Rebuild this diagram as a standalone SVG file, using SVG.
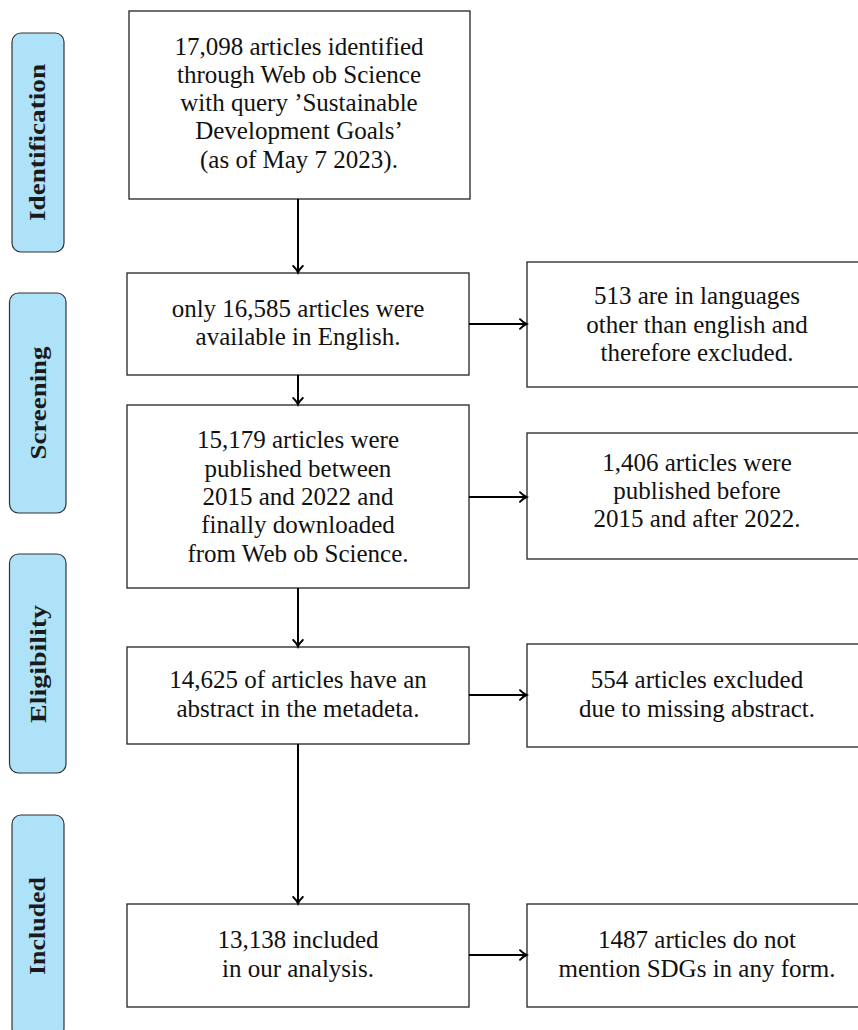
<svg xmlns="http://www.w3.org/2000/svg" width="858" height="1030" viewBox="0 0 858 1030">
<defs>
<marker id="arr" viewBox="-8 -6 10 12" refX="0" refY="0" markerWidth="10" markerHeight="12" markerUnits="userSpaceOnUse" orient="auto">
<path d="M-6.5,-4.8 C-4,-2.2 -1.6,-0.6 0,0 C-1.6,0.6 -4,2.2 -6.5,4.8" fill="none" stroke="#000" stroke-width="1.9" stroke-linecap="round"/>
</marker>
<style>
.box{fill:#fff;stroke:#222;stroke-width:1.3}
.lab{fill:#aee2f8;stroke:#333;stroke-width:1.2}
.t{font-family:"Liberation Serif","Times New Roman",serif;font-size:25px;fill:#111;text-anchor:middle}
.lt{font-family:"Liberation Serif","Times New Roman",serif;font-size:24px;font-weight:bold;fill:#1a1a1a;text-anchor:middle}
.c{stroke:#000;stroke-width:2;fill:none;marker-end:url(#arr)}
</style>
</defs>
<rect width="858" height="1030" fill="#fff"/>

<g id="label-identification">
<rect class="lab" x="12" y="33" width="52" height="219" rx="9"/>
<text class="lt" transform="translate(45,142.5) rotate(-90)" textLength="157" lengthAdjust="spacingAndGlyphs">Identification</text>
</g>
<g id="label-screening">
<rect class="lab" x="9.5" y="293" width="56.5" height="220" rx="9"/>
<text class="lt" transform="translate(45.5,403) rotate(-90)" textLength="113" lengthAdjust="spacingAndGlyphs">Screening</text>
</g>
<g id="label-eligibility">
<rect class="lab" x="9.5" y="554" width="56.5" height="219" rx="9"/>
<text class="lt" transform="translate(45.5,664) rotate(-90)" textLength="118" lengthAdjust="spacingAndGlyphs">Eligibility</text>
</g>
<g id="label-included">
<rect class="lab" x="12" y="815" width="52" height="222" rx="9"/>
<text class="lt" transform="translate(45,926) rotate(-90)" textLength="98" lengthAdjust="spacingAndGlyphs">Included</text>
</g>

<g id="box1">
<rect class="box" x="129" y="11" width="341" height="188"/>
<text class="t" x="299" y="54.5">17,098 articles identified</text>
<text class="t" x="299" y="82.8">through Web ob Science</text>
<text class="t" x="299" y="111.1">with query ’Sustainable</text>
<text class="t" x="299" y="139.4">Development Goals’</text>
<text class="t" x="299" y="167.7">(as of May 7 2023).</text>
</g>
<g id="box2">
<rect class="box" x="127" y="273" width="342" height="102"/>
<text class="t" x="298" y="316.7">only 16,585 articles were</text>
<text class="t" x="298" y="345">available in English.</text>
</g>
<g id="box3">
<rect class="box" x="127" y="405" width="342" height="183"/>
<text class="t" x="298" y="448.3">15,179 articles were</text>
<text class="t" x="298" y="476.6">published between</text>
<text class="t" x="298" y="504.9">2015 and 2022 and</text>
<text class="t" x="298" y="533.2">finally downloaded</text>
<text class="t" x="298" y="561.5">from Web ob Science.</text>
</g>
<g id="box4">
<rect class="box" x="127" y="647" width="342" height="97"/>
<text class="t" x="298" y="688.3">14,625 of articles have an</text>
<text class="t" x="298" y="716.6">abstract in the metadeta.</text>
</g>
<g id="box5">
<rect class="box" x="127" y="904" width="342" height="103"/>
<text class="t" x="298" y="947.7">13,138 included</text>
<text class="t" x="298" y="976.5">in our analysis.</text>
</g>
<g id="excl1">
<rect class="box" x="527" y="262" width="340" height="125"/>
<text class="t" x="697" y="304.3">513 are in languages</text>
<text class="t" x="697" y="332.6">other than english and</text>
<text class="t" x="697" y="360.9">therefore excluded.</text>
</g>
<g id="excl2">
<rect class="box" x="527" y="433" width="340" height="126"/>
<text class="t" x="697" y="470.7">1,406 articles were</text>
<text class="t" x="697" y="499">published before</text>
<text class="t" x="697" y="527.3">2015 and after 2022.</text>
</g>
<g id="excl3">
<rect class="box" x="527" y="644" width="340" height="103"/>
<text class="t" x="697" y="688.3">554 articles excluded</text>
<text class="t" x="697" y="716.6">due to missing abstract.</text>
</g>
<g id="excl4">
<rect class="box" x="527" y="904" width="340" height="103"/>
<text class="t" x="697" y="947.7">1487 articles do not</text>
<text class="t" x="697" y="976.5">mention SDGs in any form.</text>
</g>

<g id="connectors">
<line class="c" x1="298" y1="199" x2="298" y2="272.5"/>
<line class="c" x1="298" y1="375" x2="298" y2="404.5"/>
<line class="c" x1="298" y1="588" x2="298" y2="646.5"/>
<line class="c" x1="298" y1="744" x2="298" y2="903.5"/>
<line class="c" x1="469" y1="324" x2="526.5" y2="324"/>
<line class="c" x1="469" y1="497" x2="526.5" y2="497"/>
<line class="c" x1="469" y1="695" x2="526.5" y2="695"/>
<line class="c" x1="469" y1="955" x2="526.5" y2="955"/>
</g>
</svg>
